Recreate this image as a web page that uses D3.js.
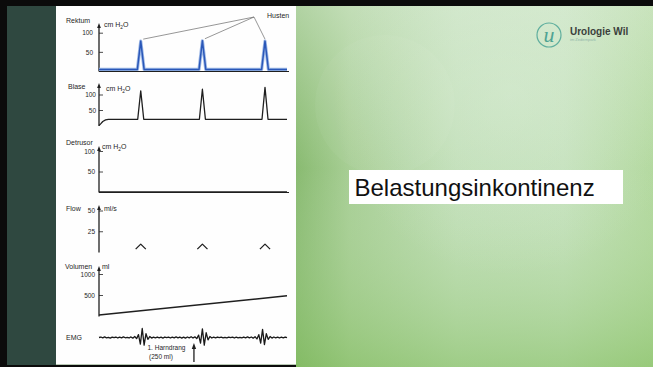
<!DOCTYPE html>
<html><head><meta charset="utf-8">
<script src="https://cdn.jsdelivr.net/npm/d3@7"></script>
<style>html,body{margin:0;padding:0;overflow:hidden;background:#000}svg{display:block}</style>
</head><body><svg id="c" width="653" height="367"></svg>
<script>
// Urodynamic traces over a common time base (0–100)
const timeDomain = [0, 100];
const coughTimes = [22.2, 55, 88.3];

// [time, value] pairs per channel
const rektum = [[0,4],[20.4,4],[22.2,78],[24,4],[53.2,4],[55,79],[56.8,4],[86.5,4],[88.3,78],[90.1,4],[100,4]];
const blase = [[0,0],[1,6],[2,13],[3.5,18],[5,20],[20.6,20],[22.2,112],[23.8,20],[53.4,20],[55,117],[56.6,20],[86.7,20],[88.3,123],[89.9,20],[100,20]];
const detrusor = [[0,0],[100,0]];
const flow = [[0,0],[19.4,0],[19.5,3.5],[22.2,9.5],[24.9,3.5],[25,0],[52.2,0],[52.3,3.5],[55,9.5],[57.7,3.5],[57.8,0],[85.5,0],[85.6,3.5],[88.3,9.5],[91,3.5],[91.1,0],[100,0]];
const volumen = [[0,25],[100,480]];
const emg = [
  0,0.5,-0.4,0.6,-0.3,0.2,-0.6,0.4,-0.2,0.5,-0.5,
  0.3,-0.4,0.7,-0.3,0.2,-0.5,0.6,-0.7,1.0,-1.2,
  3,-7,9.5,-8,4,-2,1,-0.6,0.4,-0.3,
  0.5,-0.4,0.3,-0.6,0.5,-0.2,0.4,-0.5,0.3,-0.4,
  0.6,-0.3,0.5,-0.6,0.4,-0.7,0.5,-0.4,0.8,-0.6,
  0.7,-1.2,2.5,-6,9,-8,5,-2.5,1,-0.5,
  0.4,-0.3,0.5,-0.2,0.3,-0.4,0.2,-0.3,0.4,-0.2,
  0.3,-0.5,0.4,-0.3,0.2,-0.4,0.5,-0.3,0.6,-0.4,
  0.5,-0.7,0.9,-1.5,3,-6,8.5,-7.5,4,-2,
  1,-0.6,0.5,-0.4,0.3,-0.5,0.4,-0.3,0.5,-0.2
];
const urgeTime = 50.5;
const urgeLabel = ["1. Harndrang", "(250 ml)"];
const title = "Belastungsinkontinenz";

const svg = d3.select("#c");
const defs = svg.append("defs");

// ---------- slide background ----------
const gH = defs.append("linearGradient").attr("id","bgH").attr("x1",0).attr("x2",1).attr("y1",0).attr("y2",0);
[["0","#80b566"],["0.15","#a2cb8e"],["0.45","#bcdcb2"],["0.75","#c0dfb7"],["1","#aed698"]].forEach(s=>gH.append("stop").attr("offset",s[0]).attr("stop-color",s[1]));
const gV = defs.append("linearGradient").attr("id","bgV").attr("x1",0).attr("x2",0).attr("y1",0).attr("y2",1);
gV.append("stop").attr("offset",0).attr("stop-color","#e2f0df").attr("stop-opacity",0.5);
gV.append("stop").attr("offset",0.45).attr("stop-color","#d8ecd2").attr("stop-opacity",0.1);
gV.append("stop").attr("offset",1).attr("stop-color","#86c063").attr("stop-opacity",0.55);
const gR = defs.append("radialGradient").attr("id","bgR").attr("cx",0.6).attr("cy",0.25).attr("r",0.5);
gR.append("stop").attr("offset",0).attr("stop-color","#e2f1e0").attr("stop-opacity",0.35);
gR.append("stop").attr("offset",1).attr("stop-color","#e2f1e0").attr("stop-opacity",0);

svg.append("rect").attr("x",0).attr("y",0).attr("width",653).attr("height",367).attr("fill","#0b0b0b");
svg.append("rect").attr("x",296).attr("y",6).attr("width",357).attr("height",361).attr("fill","url(#bgH)");
svg.append("rect").attr("x",296).attr("y",6).attr("width",357).attr("height",361).attr("fill","url(#bgV)");
svg.append("rect").attr("x",296).attr("y",6).attr("width",357).attr("height",361).attr("fill","url(#bgR)");
svg.append("circle").attr("cx",385).attr("cy",105).attr("r",70).attr("fill","#ffffff").attr("opacity",0.04);
svg.append("rect").attr("x",7).attr("y",6).attr("width",49).attr("height",359).attr("fill","#2f4840");
svg.append("rect").attr("x",56).attr("y",6).attr("width",240).attr("height",358).attr("fill","#fefefe");
svg.append("line").attr("x1",56).attr("x2",296).attr("y1",364.5).attr("y2",364.5).attr("stroke","#b9c9b5").attr("stroke-width",1);

// ---------- logo ----------
const logo = svg.append("g");
logo.append("circle").attr("cx",549).attr("cy",35).attr("r",12).attr("fill","none").attr("stroke","#5fae9e").attr("stroke-width",1.2);
logo.append("text").attr("x",549).attr("y",42).attr("text-anchor","middle")
  .attr("font-family","Liberation Serif").attr("font-style","italic").attr("font-size",22).attr("fill","#4fa393").text("u");
logo.append("text").attr("x",570).attr("y",35).attr("font-family","Liberation Sans, Arial").attr("font-weight","bold")
  .attr("font-size",10).attr("fill","#3a3f3c").text("Urologie Wil");
logo.append("text").attr("x",570).attr("y",41).attr("font-family","Liberation Sans, Arial")
  .attr("font-size",4).attr("fill","#8fb5a8").text("im Zedernpark");

// ---------- title box ----------
svg.append("rect").attr("x",349).attr("y",170).attr("width",274).attr("height",34).attr("fill","#ffffff");
svg.append("text").attr("x",354.5).attr("y",196).attr("font-family","Liberation Sans, Arial").attr("font-size",24)
  .attr("fill","#111").text(title);

// ---------- traces ----------
const x = d3.scaleLinear().domain(timeDomain).range([99, 287]);
const font = "Liberation Sans, Arial";
const ink = "#1f1f1f";

const panels = [
  {name:"Rektum", unit:"cm H|2|O", data:rektum, domain:[0,100], range:[71,32.7], top:23, ticks:[50,100], labelY:23, unitX:104, unitY:27, tickEnd:93, xAxis:true, color:"#2a57b8"},
  {name:"Blase", unit:"cm H|2|O", data:blase, domain:[0,100], range:[125.5,94.5], top:83, ticks:[50,100], labelY:89, labelX:68, unitX:106, unitY:91, tickEnd:96},
  {name:"Detrusor", unit:"cm H|2|O", data:detrusor, domain:[0,100], range:[192,151], top:146, ticks:[50,100], labelY:145, unitX:102, unitY:149, tickEnd:95, xAxis:true},
  {name:"Flow", unit:"ml/s", data:flow, domain:[0,50], range:[252,210.5], top:205, ticks:[25,50], labelY:211, unitX:104, unitY:211, tickEnd:95, onlyPositive:true},
  {name:"Volumen", unit:"ml", data:volumen, domain:[0,1000], range:[316,274], top:266, ticks:[500,1000], labelY:269, labelX:65, unitX:102, unitY:269, tickEnd:95}
];

panels.forEach(p => {
  const y = d3.scaleLinear().domain(p.domain).range(p.range);
  const g = svg.append("g");
  const x0 = x(timeDomain[0]);
  // vertical axis with arrow head
  g.append("line").attr("x1",x0).attr("x2",x0).attr("y1",p.range[0]+0.5).attr("y2",p.top+3)
    .attr("stroke",ink).attr("stroke-width",1.3);
  g.append("path").attr("d",`M${x0},${p.top} L${x0-1.9},${p.top+5} L${x0+1.9},${p.top+5} Z`).attr("fill",ink);
  // ticks (drawn on the inside of the axis)
  const ax = d3.axisRight(y).tickValues(p.ticks).tickFormat(d3.format("d")).tickSize(4).tickSizeOuter(0);
  const axG = g.append("g").attr("transform",`translate(${x0},0)`).call(ax);
  axG.select(".domain").remove();
  axG.selectAll(".tick line").attr("stroke",ink).attr("stroke-width",0.8);
  axG.selectAll(".tick text").attr("x",p.tickEnd - x0).attr("dy","0.35em").attr("text-anchor","end")
    .attr("font-family",font).attr("font-size",6.5).attr("fill",ink);
  // horizontal time axis
  if (p.xAxis) {
    g.append("line").attr("x1",x0).attr("x2",x.range()[1]+2).attr("y1",p.range[0]+0.5).attr("y2",p.range[0]+0.5)
      .attr("stroke",ink).attr("stroke-width",1.2);
  }
  // channel label and unit
  g.append("text").attr("x",p.labelX || 66).attr("y",p.labelY).attr("font-family",font).attr("font-size",7)
    .attr("fill",ink).text(p.name);
  const parts = p.unit.split("|");
  const ut = g.append("text").attr("x",p.unitX).attr("y",p.unitY).attr("font-family",font).attr("font-size",7).attr("fill",ink);
  ut.append("tspan").text(parts[0]);
  if (parts.length > 1) {
    ut.append("tspan").attr("dy",1.6).attr("font-size",4.8).text(parts[1]);
    ut.append("tspan").attr("dy",-1.6).text(parts[2]);
  }
  // trace
  const line = d3.line().x(d => x(d[0])).y(d => y(d[1]));
  if (p.onlyPositive) line.defined(d => d[1] > 0);
  if (p.color) {
    g.append("path").attr("d",line(p.data)).attr("fill","none").attr("stroke","#9db8e6").attr("stroke-width",3.2).attr("stroke-linejoin","round");
    g.append("path").attr("d",line(p.data)).attr("fill","none").attr("stroke",p.color).attr("stroke-width",1.5).attr("stroke-linejoin","round");
  } else {
    g.append("path").attr("d",line(p.data)).attr("fill","none").attr("stroke",ink)
      .attr("stroke-width",p.name==="Volumen"?1.5:1.3).attr("stroke-linejoin","round");
  }
  p.y = y;
});

// cough annotation on the rectal channel
const yR = panels[0].y;
const hx = 254, hy = 17;
svg.append("text").attr("x",267).attr("y",18).attr("font-family",font).attr("font-size",7).attr("fill",ink).text("Husten");
coughTimes.forEach((t,i) => {
  const px = x(t) + (i===2 ? 0 : 2.5);
  const peak = d3.max(rektum.filter(d => Math.abs(d[0]-t) < 0.5), d => d[1]);
  svg.append("line").attr("x1",hx).attr("y1",hy).attr("x2",px).attr("y2",yR(peak)-2)
    .attr("stroke","#6a6a6a").attr("stroke-width",0.7);
});

// EMG
const yE = d3.scaleLinear().domain([-10,10]).range([347,328]);
svg.append("text").attr("x",66).attr("y",339.5).attr("font-family",font).attr("font-size",7).attr("fill",ink).text("EMG");
svg.append("path").attr("d", d3.line().x((d,i) => x(i)).y(d => yE(d))(emg))
  .attr("fill","none").attr("stroke","#1a1a1a").attr("stroke-width",1.3).attr("stroke-linejoin","round");

// first urge marker
const ux = x(urgeTime);
svg.append("line").attr("x1",ux).attr("x2",ux).attr("y1",362).attr("y2",347).attr("stroke",ink).attr("stroke-width",1.3);
svg.append("path").attr("d",`M${ux},${343} L${ux-2.2},${349} L${ux+2.2},${349} Z`).attr("fill",ink);
svg.append("text").attr("x",147.5).attr("y",350).attr("font-family",font).attr("font-size",6.5).attr("fill",ink).text(urgeLabel[0]);
svg.append("text").attr("x",149).attr("y",358.5).attr("font-family",font).attr("font-size",6.5).attr("fill",ink).text(urgeLabel[1]);
</script>
</body></html>
